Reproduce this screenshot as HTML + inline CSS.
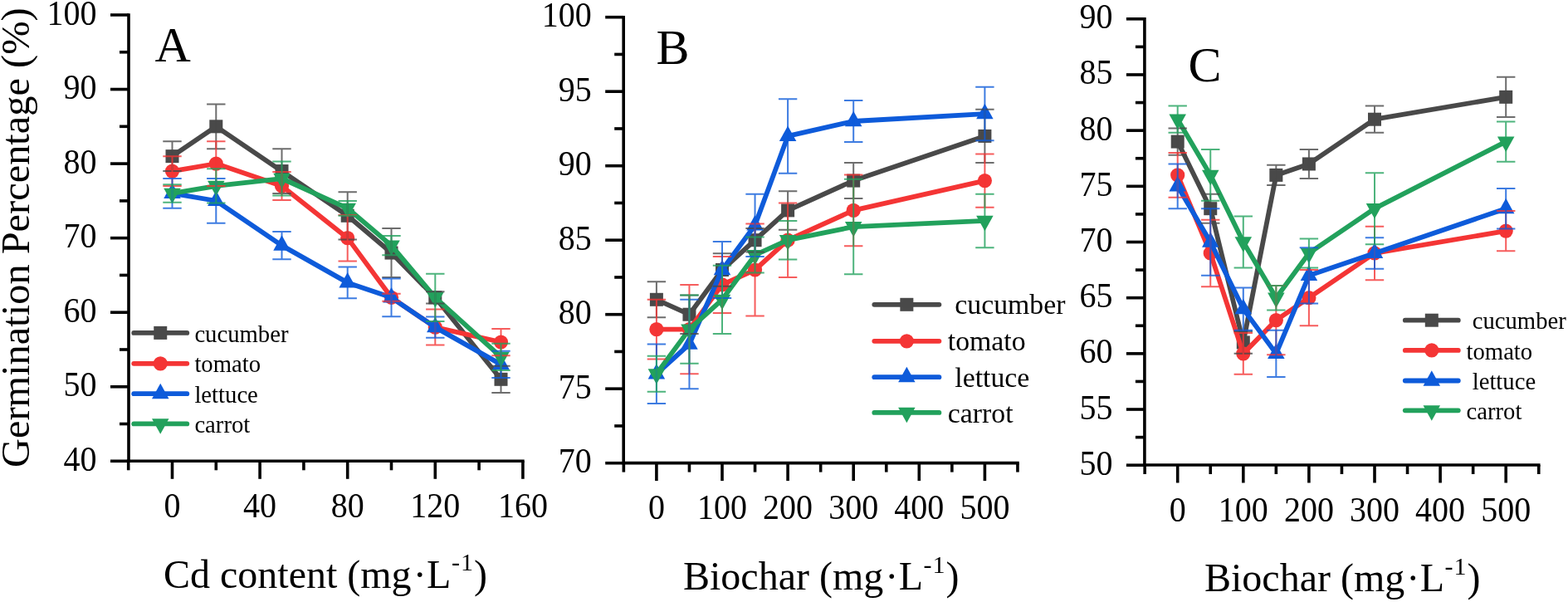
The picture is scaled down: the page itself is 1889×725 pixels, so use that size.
<!DOCTYPE html>
<html><head><meta charset="utf-8"><title>Germination Percentage</title>
<style>
html,body{margin:0;padding:0;background:#fff;}
body{width:1889px;height:725px;overflow:hidden;}
svg{display:block;}
text{font-family:"Liberation Serif", "Times New Roman", serif;fill:#000;}
.tl{font-size:41.5px;}
.at{font-size:48px;}
.pl{font-size:60px;}
.sup{font-size:30px;}
</style></head>
<body>
<svg width="1889" height="725" viewBox="0 0 1889 725">
<rect width="1889" height="725" fill="#fff"/>
<g id="panelA">
<polyline points="207.50,188.15 260.30,152.32 339.50,206.06 418.70,259.78 471.50,304.56 524.30,358.29 603.50,456.80" stroke="#494949" stroke-width="5.8" fill="none" stroke-linejoin="round"/>
<rect x="199.50" y="180.15" width="16.00" height="16.00" fill="#494949"/>
<rect x="252.30" y="144.32" width="16.00" height="16.00" fill="#494949"/>
<rect x="331.50" y="198.06" width="16.00" height="16.00" fill="#494949"/>
<rect x="410.70" y="251.78" width="16.00" height="16.00" fill="#494949"/>
<rect x="463.50" y="296.56" width="16.00" height="16.00" fill="#494949"/>
<rect x="516.30" y="350.29" width="16.00" height="16.00" fill="#494949"/>
<rect x="595.50" y="448.80" width="16.00" height="16.00" fill="#494949"/>
<polyline points="207.50,206.06 260.30,197.10 339.50,223.97 418.70,286.65 471.50,358.29 524.30,394.11 603.50,412.02" stroke="#f43535" stroke-width="5.8" fill="none" stroke-linejoin="round"/>
<circle cx="207.50" cy="206.06" r="8.60" fill="#f43535"/>
<circle cx="260.30" cy="197.10" r="8.60" fill="#f43535"/>
<circle cx="339.50" cy="223.97" r="8.60" fill="#f43535"/>
<circle cx="418.70" cy="286.65" r="8.60" fill="#f43535"/>
<circle cx="471.50" cy="358.29" r="8.60" fill="#f43535"/>
<circle cx="524.30" cy="394.11" r="8.60" fill="#f43535"/>
<circle cx="603.50" cy="412.02" r="8.60" fill="#f43535"/>
<polyline points="207.50,232.92 260.30,241.88 339.50,295.61 418.70,340.38 471.50,358.29 524.30,394.11 603.50,438.88" stroke="#0e5bda" stroke-width="5.8" fill="none" stroke-linejoin="round"/>
<polygon points="207.50,220.59 217.75,239.09 197.25,239.09" fill="#0e5bda"/>
<polygon points="260.30,229.54 270.55,248.04 250.05,248.04" fill="#0e5bda"/>
<polygon points="339.50,283.27 349.75,301.77 329.25,301.77" fill="#0e5bda"/>
<polygon points="418.70,328.05 428.95,346.55 408.45,346.55" fill="#0e5bda"/>
<polygon points="471.50,345.96 481.75,364.46 461.25,364.46" fill="#0e5bda"/>
<polygon points="524.30,381.78 534.55,400.28 514.05,400.28" fill="#0e5bda"/>
<polygon points="603.50,426.55 613.75,445.05 593.25,445.05" fill="#0e5bda"/>
<polyline points="207.50,232.92 260.30,223.97 339.50,215.01 418.70,250.83 471.50,295.61 524.30,358.29 603.50,429.93" stroke="#22a15c" stroke-width="5.8" fill="none" stroke-linejoin="round"/>
<polygon points="197.25,226.75 217.75,226.75 207.50,245.25" fill="#22a15c"/>
<polygon points="250.05,217.80 270.55,217.80 260.30,236.30" fill="#22a15c"/>
<polygon points="329.25,208.84 349.75,208.84 339.50,227.34" fill="#22a15c"/>
<polygon points="408.45,244.66 428.95,244.66 418.70,263.16" fill="#22a15c"/>
<polygon points="461.25,289.44 481.75,289.44 471.50,307.94" fill="#22a15c"/>
<polygon points="514.05,352.12 534.55,352.12 524.30,370.62" fill="#22a15c"/>
<polygon points="593.25,423.76 613.75,423.76 603.50,442.26" fill="#22a15c"/>
<path d="M207.50,170.24V206.06M196.30,170.24H218.70M196.30,206.06H218.70M260.30,125.46V179.19M249.10,125.46H271.50M249.10,179.19H271.50M339.50,179.19V232.92M328.30,179.19H350.70M328.30,232.92H350.70M418.70,231.13V288.44M407.50,231.13H429.90M407.50,288.44H429.90M471.50,275.01V334.11M460.30,275.01H482.70M460.30,334.11H482.70M524.30,351.13V365.45M513.10,351.13H535.50M513.10,365.45H535.50M603.50,440.68V472.91M592.30,440.68H614.70M592.30,472.91H614.70" stroke="#494949" stroke-opacity="0.8" stroke-width="2.0" fill="none"/>
<path d="M207.50,188.15V223.97M196.30,188.15H218.70M196.30,223.97H218.70M260.30,170.24V223.97M249.10,170.24H271.50M249.10,223.97H271.50M339.50,206.95V240.98M328.30,206.95H350.70M328.30,240.98H350.70M418.70,258.89V314.41M407.50,258.89H429.90M407.50,314.41H429.90M471.50,353.81V362.77M460.30,353.81H482.70M460.30,362.77H482.70M524.30,372.62V415.60M513.10,372.62H535.50M513.10,415.60H535.50M603.50,395.90V428.14M592.30,395.90H614.70M592.30,428.14H614.70" stroke="#f43535" stroke-opacity="0.8" stroke-width="2.0" fill="none"/>
<path d="M207.50,215.01V250.83M196.30,215.01H218.70M196.30,250.83H218.70M260.30,215.01V268.74M249.10,215.01H271.50M249.10,268.74H271.50M339.50,279.04V312.17M328.30,279.04H350.70M328.30,312.17H350.70M418.70,321.57V359.19M407.50,321.57H429.90M407.50,359.19H429.90M471.50,335.45V381.13M460.30,335.45H482.70M460.30,381.13H482.70M524.30,381.57V406.65M513.10,381.57H535.50M513.10,406.65H535.50M603.50,422.77V455.00M592.30,422.77H614.70M592.30,455.00H614.70" stroke="#0e5bda" stroke-opacity="0.8" stroke-width="2.0" fill="none"/>
<path d="M207.50,222.17V243.67M196.30,222.17H218.70M196.30,243.67H218.70M260.30,203.37V244.56M249.10,203.37H271.50M249.10,244.56H271.50M339.50,194.41V235.61M328.30,194.41H350.70M328.30,235.61H350.70M418.70,241.88V259.78M407.50,241.88H429.90M407.50,259.78H429.90M471.50,283.96V307.25M460.30,283.96H482.70M460.30,307.25H482.70M524.30,329.63V386.95M513.10,329.63H535.50M513.10,386.95H535.50M603.50,413.81V446.05M592.30,413.81H614.70M592.30,446.05H614.70" stroke="#22a15c" stroke-opacity="0.8" stroke-width="2.0" fill="none"/>
<path d="M155.00,16.20 L155.00,555.30 M152.90,555.30 L631.70,555.30" stroke="#000" stroke-width="3.6" fill="none"/>
<line x1="133.00" y1="555.30" x2="155.00" y2="555.30" stroke="#000" stroke-width="3.6"/>
<line x1="144.00" y1="510.52" x2="155.00" y2="510.52" stroke="#000" stroke-width="3.6"/>
<line x1="133.00" y1="465.75" x2="155.00" y2="465.75" stroke="#000" stroke-width="3.6"/>
<line x1="144.00" y1="420.98" x2="155.00" y2="420.98" stroke="#000" stroke-width="3.6"/>
<line x1="133.00" y1="376.20" x2="155.00" y2="376.20" stroke="#000" stroke-width="3.6"/>
<line x1="144.00" y1="331.43" x2="155.00" y2="331.43" stroke="#000" stroke-width="3.6"/>
<line x1="133.00" y1="286.65" x2="155.00" y2="286.65" stroke="#000" stroke-width="3.6"/>
<line x1="144.00" y1="241.88" x2="155.00" y2="241.88" stroke="#000" stroke-width="3.6"/>
<line x1="133.00" y1="197.10" x2="155.00" y2="197.10" stroke="#000" stroke-width="3.6"/>
<line x1="144.00" y1="152.32" x2="155.00" y2="152.32" stroke="#000" stroke-width="3.6"/>
<line x1="133.00" y1="107.55" x2="155.00" y2="107.55" stroke="#000" stroke-width="3.6"/>
<line x1="144.00" y1="62.77" x2="155.00" y2="62.77" stroke="#000" stroke-width="3.6"/>
<line x1="133.00" y1="18.00" x2="155.00" y2="18.00" stroke="#000" stroke-width="3.6"/>
<line x1="154.70" y1="555.30" x2="154.70" y2="566.30" stroke="#000" stroke-width="3.6"/>
<line x1="207.50" y1="555.30" x2="207.50" y2="576.80" stroke="#000" stroke-width="3.6"/>
<line x1="260.30" y1="555.30" x2="260.30" y2="566.30" stroke="#000" stroke-width="3.6"/>
<line x1="313.10" y1="555.30" x2="313.10" y2="576.80" stroke="#000" stroke-width="3.6"/>
<line x1="365.90" y1="555.30" x2="365.90" y2="566.30" stroke="#000" stroke-width="3.6"/>
<line x1="418.70" y1="555.30" x2="418.70" y2="576.80" stroke="#000" stroke-width="3.6"/>
<line x1="471.50" y1="555.30" x2="471.50" y2="566.30" stroke="#000" stroke-width="3.6"/>
<line x1="524.30" y1="555.30" x2="524.30" y2="576.80" stroke="#000" stroke-width="3.6"/>
<line x1="577.10" y1="555.30" x2="577.10" y2="566.30" stroke="#000" stroke-width="3.6"/>
<line x1="629.90" y1="555.30" x2="629.90" y2="576.80" stroke="#000" stroke-width="3.6"/>
<text transform="translate(116.50,566.80) scale(0.964,1)" text-anchor="end" class="tl">40</text>
<text transform="translate(116.50,477.25) scale(0.964,1)" text-anchor="end" class="tl">50</text>
<text transform="translate(116.50,387.70) scale(0.964,1)" text-anchor="end" class="tl">60</text>
<text transform="translate(116.50,298.15) scale(0.964,1)" text-anchor="end" class="tl">70</text>
<text transform="translate(116.50,208.60) scale(0.964,1)" text-anchor="end" class="tl">80</text>
<text transform="translate(116.50,119.05) scale(0.964,1)" text-anchor="end" class="tl">90</text>
<text transform="translate(116.50,29.50) scale(0.964,1)" text-anchor="end" class="tl">100</text>
<text transform="translate(207.50,622.80) scale(0.964,1)" text-anchor="middle" class="tl">0</text>
<text transform="translate(313.10,622.80) scale(0.964,1)" text-anchor="middle" class="tl">40</text>
<text transform="translate(418.70,622.80) scale(0.964,1)" text-anchor="middle" class="tl">80</text>
<text transform="translate(524.30,622.80) scale(0.964,1)" text-anchor="middle" class="tl">120</text>
<text transform="translate(629.90,622.80) scale(0.964,1)" text-anchor="middle" class="tl">160</text>
<line x1="161.20" y1="400.90" x2="225.30" y2="400.90" stroke="#494949" stroke-width="5.8" stroke-linecap="round"/>
<rect x="185.25" y="392.90" width="16.00" height="16.00" fill="#494949"/>
<text x="234.40" y="411.57" font-size="28.7" xml:space="preserve">cucumber</text>
<line x1="161.20" y1="437.80" x2="225.30" y2="437.80" stroke="#f43535" stroke-width="5.8" stroke-linecap="round"/>
<circle cx="193.25" cy="437.80" r="8.60" fill="#f43535"/>
<text x="234.40" y="448.47" font-size="28.7" xml:space="preserve">tomato</text>
<line x1="161.20" y1="474.20" x2="225.30" y2="474.20" stroke="#0e5bda" stroke-width="5.8" stroke-linecap="round"/>
<polygon points="193.25,461.87 203.50,480.37 183.00,480.37" fill="#0e5bda"/>
<text x="234.40" y="484.87" font-size="28.7" xml:space="preserve">lettuce</text>
<line x1="161.20" y1="510.40" x2="225.30" y2="510.40" stroke="#22a15c" stroke-width="5.8" stroke-linecap="round"/>
<polygon points="183.00,504.23 203.50,504.23 193.25,522.73" fill="#22a15c"/>
<text x="234.40" y="521.07" font-size="28.7" xml:space="preserve">carrot</text>
</g>
<g id="panelB">
<polyline points="790.90,360.80 830.45,378.70 870.00,325.00 909.55,289.20 949.10,253.40 1028.20,217.60 1186.40,163.90" stroke="#494949" stroke-width="5.8" fill="none" stroke-linejoin="round"/>
<rect x="782.90" y="352.80" width="16.00" height="16.00" fill="#494949"/>
<rect x="822.45" y="370.70" width="16.00" height="16.00" fill="#494949"/>
<rect x="862.00" y="317.00" width="16.00" height="16.00" fill="#494949"/>
<rect x="901.55" y="281.20" width="16.00" height="16.00" fill="#494949"/>
<rect x="941.10" y="245.40" width="16.00" height="16.00" fill="#494949"/>
<rect x="1020.20" y="209.60" width="16.00" height="16.00" fill="#494949"/>
<rect x="1178.40" y="155.90" width="16.00" height="16.00" fill="#494949"/>
<polyline points="790.90,396.60 830.45,396.60 870.00,342.90 909.55,325.00 949.10,289.20 1028.20,253.40 1186.40,217.60" stroke="#f43535" stroke-width="5.8" fill="none" stroke-linejoin="round"/>
<circle cx="790.90" cy="396.60" r="8.60" fill="#f43535"/>
<circle cx="830.45" cy="396.60" r="8.60" fill="#f43535"/>
<circle cx="870.00" cy="342.90" r="8.60" fill="#f43535"/>
<circle cx="909.55" cy="325.00" r="8.60" fill="#f43535"/>
<circle cx="949.10" cy="289.20" r="8.60" fill="#f43535"/>
<circle cx="1028.20" cy="253.40" r="8.60" fill="#f43535"/>
<circle cx="1186.40" cy="217.60" r="8.60" fill="#f43535"/>
<polyline points="790.90,450.30 830.45,414.50 870.00,325.00 909.55,271.30 949.10,163.90 1028.20,146.00 1186.40,137.05" stroke="#0e5bda" stroke-width="5.8" fill="none" stroke-linejoin="round"/>
<polygon points="790.90,437.97 801.15,456.47 780.65,456.47" fill="#0e5bda"/>
<polygon points="830.45,402.17 840.70,420.67 820.20,420.67" fill="#0e5bda"/>
<polygon points="870.00,312.67 880.25,331.17 859.75,331.17" fill="#0e5bda"/>
<polygon points="909.55,258.97 919.80,277.47 899.30,277.47" fill="#0e5bda"/>
<polygon points="949.10,151.57 959.35,170.07 938.85,170.07" fill="#0e5bda"/>
<polygon points="1028.20,133.67 1038.45,152.17 1017.95,152.17" fill="#0e5bda"/>
<polygon points="1186.40,124.72 1196.65,143.22 1176.15,143.22" fill="#0e5bda"/>
<polyline points="790.90,450.30 830.45,396.60 870.00,360.80 909.55,307.10 949.10,289.20 1028.20,273.09 1186.40,265.93" stroke="#22a15c" stroke-width="5.8" fill="none" stroke-linejoin="round"/>
<polygon points="780.65,444.13 801.15,444.13 790.90,462.63" fill="#22a15c"/>
<polygon points="820.20,390.43 840.70,390.43 830.45,408.93" fill="#22a15c"/>
<polygon points="859.75,354.63 880.25,354.63 870.00,373.13" fill="#22a15c"/>
<polygon points="899.30,300.93 919.80,300.93 909.55,319.43" fill="#22a15c"/>
<polygon points="938.85,283.03 959.35,283.03 949.10,301.53" fill="#22a15c"/>
<polygon points="1017.95,266.92 1038.45,266.92 1028.20,285.42" fill="#22a15c"/>
<polygon points="1176.15,259.76 1196.65,259.76 1186.40,278.26" fill="#22a15c"/>
<path d="M790.90,339.32V382.28M779.70,339.32H802.10M779.70,382.28H802.10M830.45,355.43V401.97M819.25,355.43H841.65M819.25,401.97H841.65M870.00,305.31V344.69M858.80,305.31H881.20M858.80,344.69H881.20M909.55,274.88V303.52M898.35,274.88H920.75M898.35,303.52H920.75M949.10,230.13V276.67M937.90,230.13H960.30M937.90,276.67H960.30M1028.20,196.12V239.08M1017.00,196.12H1039.40M1017.00,239.08H1039.40M1186.40,131.68V196.12M1175.20,131.68H1197.60M1175.20,196.12H1197.60" stroke="#494949" stroke-opacity="0.8" stroke-width="2.0" fill="none"/>
<path d="M790.90,360.80V432.40M779.70,360.80H802.10M779.70,432.40H802.10M830.45,342.90V450.30M819.25,342.90H841.65M819.25,450.30H841.65M870.00,308.89V376.91M858.80,308.89H881.20M858.80,376.91H881.20M909.55,269.51V380.49M898.35,269.51H920.75M898.35,380.49H920.75M949.10,244.45V333.95M937.90,244.45H960.30M937.90,333.95H960.30M1028.20,210.44V296.36M1017.00,210.44H1039.40M1017.00,296.36H1039.40M1186.40,185.38V249.82M1175.20,185.38H1197.60M1175.20,249.82H1197.60" stroke="#f43535" stroke-opacity="0.8" stroke-width="2.0" fill="none"/>
<path d="M790.90,414.50V486.10M779.70,414.50H802.10M779.70,486.10H802.10M830.45,360.80V468.20M819.25,360.80H841.65M819.25,468.20H841.65M870.00,290.99V359.01M858.80,290.99H881.20M858.80,359.01H881.20M909.55,233.71V308.89M898.35,233.71H920.75M898.35,308.89H920.75M949.10,119.15V208.65M937.90,119.15H960.30M937.90,208.65H960.30M1028.20,120.94V171.06M1017.00,120.94H1039.40M1017.00,171.06H1039.40M1186.40,104.83V169.27M1175.20,104.83H1197.60M1175.20,169.27H1197.60" stroke="#0e5bda" stroke-opacity="0.8" stroke-width="2.0" fill="none"/>
<path d="M790.90,428.82V471.78M779.70,428.82H802.10M779.70,471.78H802.10M830.45,355.43V437.77M819.25,355.43H841.65M819.25,437.77H841.65M870.00,319.63V401.97M858.80,319.63H881.20M858.80,401.97H881.20M909.55,285.62V328.58M898.35,285.62H920.75M898.35,328.58H920.75M949.10,265.93V312.47M937.90,265.93H960.30M937.90,312.47H960.30M1028.20,215.81V330.37M1017.00,215.81H1039.40M1017.00,330.37H1039.40M1186.40,233.71V298.15M1175.20,233.71H1197.60M1175.20,298.15H1197.60" stroke="#22a15c" stroke-opacity="0.8" stroke-width="2.0" fill="none"/>
<path d="M751.20,18.90 L751.20,557.60 M749.55,557.60 L1227.75,557.60" stroke="#000" stroke-width="3.6" fill="none"/>
<line x1="729.20" y1="557.70" x2="751.20" y2="557.70" stroke="#000" stroke-width="3.6"/>
<line x1="740.20" y1="512.95" x2="751.20" y2="512.95" stroke="#000" stroke-width="3.6"/>
<line x1="729.20" y1="468.20" x2="751.20" y2="468.20" stroke="#000" stroke-width="3.6"/>
<line x1="740.20" y1="423.45" x2="751.20" y2="423.45" stroke="#000" stroke-width="3.6"/>
<line x1="729.20" y1="378.70" x2="751.20" y2="378.70" stroke="#000" stroke-width="3.6"/>
<line x1="740.20" y1="333.95" x2="751.20" y2="333.95" stroke="#000" stroke-width="3.6"/>
<line x1="729.20" y1="289.20" x2="751.20" y2="289.20" stroke="#000" stroke-width="3.6"/>
<line x1="740.20" y1="244.45" x2="751.20" y2="244.45" stroke="#000" stroke-width="3.6"/>
<line x1="729.20" y1="199.70" x2="751.20" y2="199.70" stroke="#000" stroke-width="3.6"/>
<line x1="740.20" y1="154.95" x2="751.20" y2="154.95" stroke="#000" stroke-width="3.6"/>
<line x1="729.20" y1="110.20" x2="751.20" y2="110.20" stroke="#000" stroke-width="3.6"/>
<line x1="740.20" y1="65.45" x2="751.20" y2="65.45" stroke="#000" stroke-width="3.6"/>
<line x1="729.20" y1="20.70" x2="751.20" y2="20.70" stroke="#000" stroke-width="3.6"/>
<line x1="751.35" y1="557.60" x2="751.35" y2="568.60" stroke="#000" stroke-width="3.6"/>
<line x1="790.90" y1="557.60" x2="790.90" y2="579.10" stroke="#000" stroke-width="3.6"/>
<line x1="830.45" y1="557.60" x2="830.45" y2="568.60" stroke="#000" stroke-width="3.6"/>
<line x1="870.00" y1="557.60" x2="870.00" y2="579.10" stroke="#000" stroke-width="3.6"/>
<line x1="909.55" y1="557.60" x2="909.55" y2="568.60" stroke="#000" stroke-width="3.6"/>
<line x1="949.10" y1="557.60" x2="949.10" y2="579.10" stroke="#000" stroke-width="3.6"/>
<line x1="988.65" y1="557.60" x2="988.65" y2="568.60" stroke="#000" stroke-width="3.6"/>
<line x1="1028.20" y1="557.60" x2="1028.20" y2="579.10" stroke="#000" stroke-width="3.6"/>
<line x1="1067.75" y1="557.60" x2="1067.75" y2="568.60" stroke="#000" stroke-width="3.6"/>
<line x1="1107.30" y1="557.60" x2="1107.30" y2="579.10" stroke="#000" stroke-width="3.6"/>
<line x1="1146.85" y1="557.60" x2="1146.85" y2="568.60" stroke="#000" stroke-width="3.6"/>
<line x1="1186.40" y1="557.60" x2="1186.40" y2="579.10" stroke="#000" stroke-width="3.6"/>
<line x1="1225.95" y1="557.60" x2="1225.95" y2="568.60" stroke="#000" stroke-width="3.6"/>
<text transform="translate(712.70,569.20) scale(0.964,1)" text-anchor="end" class="tl">70</text>
<text transform="translate(712.70,479.70) scale(0.964,1)" text-anchor="end" class="tl">75</text>
<text transform="translate(712.70,390.20) scale(0.964,1)" text-anchor="end" class="tl">80</text>
<text transform="translate(712.70,300.70) scale(0.964,1)" text-anchor="end" class="tl">85</text>
<text transform="translate(712.70,211.20) scale(0.964,1)" text-anchor="end" class="tl">90</text>
<text transform="translate(712.70,121.70) scale(0.964,1)" text-anchor="end" class="tl">95</text>
<text transform="translate(712.70,32.20) scale(0.964,1)" text-anchor="end" class="tl">100</text>
<text transform="translate(790.90,625.10) scale(0.964,1)" text-anchor="middle" class="tl">0</text>
<text transform="translate(870.00,625.10) scale(0.964,1)" text-anchor="middle" class="tl">100</text>
<text transform="translate(949.10,625.10) scale(0.964,1)" text-anchor="middle" class="tl">200</text>
<text transform="translate(1028.20,625.10) scale(0.964,1)" text-anchor="middle" class="tl">300</text>
<text transform="translate(1107.30,625.10) scale(0.964,1)" text-anchor="middle" class="tl">400</text>
<text transform="translate(1186.40,625.10) scale(0.964,1)" text-anchor="middle" class="tl">500</text>
<line x1="1053.30" y1="366.80" x2="1131.40" y2="366.80" stroke="#494949" stroke-width="5.8" stroke-linecap="round"/>
<rect x="1084.35" y="358.80" width="16.00" height="16.00" fill="#494949"/>
<text x="1141.80" y="378.45" font-size="33.8" xml:space="preserve">&#160;cucumber</text>
<line x1="1053.30" y1="410.80" x2="1131.40" y2="410.80" stroke="#f43535" stroke-width="5.8" stroke-linecap="round"/>
<circle cx="1092.35" cy="410.80" r="8.60" fill="#f43535"/>
<text x="1141.80" y="422.45" font-size="33.8" xml:space="preserve">tomato</text>
<line x1="1053.30" y1="454.20" x2="1131.40" y2="454.20" stroke="#0e5bda" stroke-width="5.8" stroke-linecap="round"/>
<polygon points="1092.35,441.87 1102.60,460.37 1082.10,460.37" fill="#0e5bda"/>
<text x="1141.80" y="465.85" font-size="33.8" xml:space="preserve">&#160;lettuce</text>
<line x1="1053.30" y1="496.90" x2="1131.40" y2="496.90" stroke="#22a15c" stroke-width="5.8" stroke-linecap="round"/>
<polygon points="1082.10,490.73 1102.60,490.73 1092.35,509.23" fill="#22a15c"/>
<text x="1141.80" y="508.55" font-size="33.8" xml:space="preserve">carrot</text>
</g>
<g id="panelC">
<polyline points="1418.70,170.59 1458.25,251.20 1497.80,412.42 1537.35,210.89 1576.90,197.46 1656.00,143.72 1814.20,116.84" stroke="#494949" stroke-width="5.8" fill="none" stroke-linejoin="round"/>
<rect x="1410.70" y="162.59" width="16.00" height="16.00" fill="#494949"/>
<rect x="1450.25" y="243.20" width="16.00" height="16.00" fill="#494949"/>
<rect x="1489.80" y="404.42" width="16.00" height="16.00" fill="#494949"/>
<rect x="1529.35" y="202.89" width="16.00" height="16.00" fill="#494949"/>
<rect x="1568.90" y="189.46" width="16.00" height="16.00" fill="#494949"/>
<rect x="1648.00" y="135.72" width="16.00" height="16.00" fill="#494949"/>
<rect x="1806.20" y="108.84" width="16.00" height="16.00" fill="#494949"/>
<polyline points="1418.70,210.89 1458.25,304.94 1497.80,425.85 1537.35,385.55 1576.90,358.68 1656.00,304.94 1814.20,278.06" stroke="#f43535" stroke-width="5.8" fill="none" stroke-linejoin="round"/>
<circle cx="1418.70" cy="210.89" r="8.60" fill="#f43535"/>
<circle cx="1458.25" cy="304.94" r="8.60" fill="#f43535"/>
<circle cx="1497.80" cy="425.85" r="8.60" fill="#f43535"/>
<circle cx="1537.35" cy="385.55" r="8.60" fill="#f43535"/>
<circle cx="1576.90" cy="358.68" r="8.60" fill="#f43535"/>
<circle cx="1656.00" cy="304.94" r="8.60" fill="#f43535"/>
<circle cx="1814.20" cy="278.06" r="8.60" fill="#f43535"/>
<polyline points="1418.70,224.33 1458.25,291.50 1497.80,372.11 1537.35,425.85 1576.90,331.81 1656.00,304.94 1814.20,251.20" stroke="#0e5bda" stroke-width="5.8" fill="none" stroke-linejoin="round"/>
<polygon points="1418.70,211.99 1428.95,230.49 1408.45,230.49" fill="#0e5bda"/>
<polygon points="1458.25,279.17 1468.50,297.67 1448.00,297.67" fill="#0e5bda"/>
<polygon points="1497.80,359.78 1508.05,378.28 1487.55,378.28" fill="#0e5bda"/>
<polygon points="1537.35,413.52 1547.60,432.02 1527.10,432.02" fill="#0e5bda"/>
<polygon points="1576.90,319.47 1587.15,337.97 1566.65,337.97" fill="#0e5bda"/>
<polygon points="1656.00,292.60 1666.25,311.10 1645.75,311.10" fill="#0e5bda"/>
<polygon points="1814.20,238.86 1824.45,257.36 1803.95,257.36" fill="#0e5bda"/>
<polyline points="1418.70,143.72 1458.25,210.89 1497.80,291.50 1537.35,358.68 1576.90,304.94 1656.00,251.20 1814.20,170.59" stroke="#22a15c" stroke-width="5.8" fill="none" stroke-linejoin="round"/>
<polygon points="1408.45,137.55 1428.95,137.55 1418.70,156.05" fill="#22a15c"/>
<polygon points="1448.00,204.72 1468.50,204.72 1458.25,223.22" fill="#22a15c"/>
<polygon points="1487.55,285.33 1508.05,285.33 1497.80,303.83" fill="#22a15c"/>
<polygon points="1527.10,352.51 1547.60,352.51 1537.35,371.01" fill="#22a15c"/>
<polygon points="1566.65,298.77 1587.15,298.77 1576.90,317.27" fill="#22a15c"/>
<polygon points="1645.75,245.03 1666.25,245.03 1656.00,263.53" fill="#22a15c"/>
<polygon points="1803.95,164.42 1824.45,164.42 1814.20,182.92" fill="#22a15c"/>
<path d="M1418.70,154.46V186.71M1407.50,154.46H1429.90M1407.50,186.71H1429.90M1458.25,233.73V268.66M1447.05,233.73H1469.45M1447.05,268.66H1469.45M1497.80,398.98V425.85M1486.60,398.98H1509.00M1486.60,425.85H1509.00M1537.35,198.80V222.98M1526.15,198.80H1548.55M1526.15,222.98H1548.55M1576.90,179.99V214.92M1565.70,179.99H1588.10M1565.70,214.92H1588.10M1656.00,127.59V159.84M1644.80,127.59H1667.20M1644.80,159.84H1667.20M1814.20,92.66V141.03M1803.00,92.66H1825.40M1803.00,141.03H1825.40" stroke="#494949" stroke-opacity="0.8" stroke-width="2.0" fill="none"/>
<path d="M1418.70,184.02V237.76M1407.50,184.02H1429.90M1407.50,237.76H1429.90M1458.25,264.63V345.24M1447.05,264.63H1469.45M1447.05,345.24H1469.45M1497.80,401.00V450.70M1486.60,401.00H1509.00M1486.60,450.70H1509.00M1537.35,343.90V427.19M1526.15,343.90H1548.55M1526.15,427.19H1548.55M1576.90,325.09V392.26M1565.70,325.09H1588.10M1565.70,392.26H1588.10M1656.00,272.69V337.18M1644.80,272.69H1667.20M1644.80,337.18H1667.20M1814.20,253.88V302.25M1803.00,253.88H1825.40M1803.00,302.25H1825.40" stroke="#f43535" stroke-opacity="0.8" stroke-width="2.0" fill="none"/>
<path d="M1418.70,197.46V251.20M1407.50,197.46H1429.90M1407.50,251.20H1429.90M1458.25,251.20V331.81M1447.05,251.20H1469.45M1447.05,331.81H1469.45M1497.80,346.58V397.64M1486.60,346.58H1509.00M1486.60,397.64H1509.00M1537.35,397.64V454.06M1526.15,397.64H1548.55M1526.15,454.06H1548.55M1576.90,298.22V365.39M1565.70,298.22H1588.10M1565.70,365.39H1588.10M1656.00,286.13V323.74M1644.80,286.13H1667.20M1644.80,323.74H1667.20M1814.20,227.01V275.38M1803.00,227.01H1825.40M1803.00,275.38H1825.40" stroke="#0e5bda" stroke-opacity="0.8" stroke-width="2.0" fill="none"/>
<path d="M1418.70,127.59V159.84M1407.50,127.59H1429.90M1407.50,159.84H1429.90M1458.25,179.99V241.79M1447.05,179.99H1469.45M1447.05,241.79H1469.45M1497.80,260.60V322.40M1486.60,260.60H1509.00M1486.60,322.40H1509.00M1537.35,343.90V373.45M1526.15,343.90H1548.55M1526.15,373.45H1548.55M1576.90,287.47V322.40M1565.70,287.47H1588.10M1565.70,322.40H1588.10M1656.00,208.20V294.19M1644.80,208.20H1667.20M1644.80,294.19H1667.20M1814.20,146.40V194.77M1803.00,146.40H1825.40M1803.00,194.77H1825.40" stroke="#22a15c" stroke-opacity="0.8" stroke-width="2.0" fill="none"/>
<path d="M1378.90,21.00 L1378.90,560.00 M1377.35,560.00 L1855.55,560.00" stroke="#000" stroke-width="3.6" fill="none"/>
<line x1="1356.90" y1="560.20" x2="1378.90" y2="560.20" stroke="#000" stroke-width="3.6"/>
<line x1="1367.90" y1="526.61" x2="1378.90" y2="526.61" stroke="#000" stroke-width="3.6"/>
<line x1="1356.90" y1="493.03" x2="1378.90" y2="493.03" stroke="#000" stroke-width="3.6"/>
<line x1="1367.90" y1="459.44" x2="1378.90" y2="459.44" stroke="#000" stroke-width="3.6"/>
<line x1="1356.90" y1="425.85" x2="1378.90" y2="425.85" stroke="#000" stroke-width="3.6"/>
<line x1="1367.90" y1="392.26" x2="1378.90" y2="392.26" stroke="#000" stroke-width="3.6"/>
<line x1="1356.90" y1="358.68" x2="1378.90" y2="358.68" stroke="#000" stroke-width="3.6"/>
<line x1="1367.90" y1="325.09" x2="1378.90" y2="325.09" stroke="#000" stroke-width="3.6"/>
<line x1="1356.90" y1="291.50" x2="1378.90" y2="291.50" stroke="#000" stroke-width="3.6"/>
<line x1="1367.90" y1="257.91" x2="1378.90" y2="257.91" stroke="#000" stroke-width="3.6"/>
<line x1="1356.90" y1="224.33" x2="1378.90" y2="224.33" stroke="#000" stroke-width="3.6"/>
<line x1="1367.90" y1="190.74" x2="1378.90" y2="190.74" stroke="#000" stroke-width="3.6"/>
<line x1="1356.90" y1="157.15" x2="1378.90" y2="157.15" stroke="#000" stroke-width="3.6"/>
<line x1="1367.90" y1="123.56" x2="1378.90" y2="123.56" stroke="#000" stroke-width="3.6"/>
<line x1="1356.90" y1="89.97" x2="1378.90" y2="89.97" stroke="#000" stroke-width="3.6"/>
<line x1="1367.90" y1="56.39" x2="1378.90" y2="56.39" stroke="#000" stroke-width="3.6"/>
<line x1="1356.90" y1="22.80" x2="1378.90" y2="22.80" stroke="#000" stroke-width="3.6"/>
<line x1="1379.15" y1="560.00" x2="1379.15" y2="571.00" stroke="#000" stroke-width="3.6"/>
<line x1="1418.70" y1="560.00" x2="1418.70" y2="581.50" stroke="#000" stroke-width="3.6"/>
<line x1="1458.25" y1="560.00" x2="1458.25" y2="571.00" stroke="#000" stroke-width="3.6"/>
<line x1="1497.80" y1="560.00" x2="1497.80" y2="581.50" stroke="#000" stroke-width="3.6"/>
<line x1="1537.35" y1="560.00" x2="1537.35" y2="571.00" stroke="#000" stroke-width="3.6"/>
<line x1="1576.90" y1="560.00" x2="1576.90" y2="581.50" stroke="#000" stroke-width="3.6"/>
<line x1="1616.45" y1="560.00" x2="1616.45" y2="571.00" stroke="#000" stroke-width="3.6"/>
<line x1="1656.00" y1="560.00" x2="1656.00" y2="581.50" stroke="#000" stroke-width="3.6"/>
<line x1="1695.55" y1="560.00" x2="1695.55" y2="571.00" stroke="#000" stroke-width="3.6"/>
<line x1="1735.10" y1="560.00" x2="1735.10" y2="581.50" stroke="#000" stroke-width="3.6"/>
<line x1="1774.65" y1="560.00" x2="1774.65" y2="571.00" stroke="#000" stroke-width="3.6"/>
<line x1="1814.20" y1="560.00" x2="1814.20" y2="581.50" stroke="#000" stroke-width="3.6"/>
<line x1="1853.75" y1="560.00" x2="1853.75" y2="571.00" stroke="#000" stroke-width="3.6"/>
<text transform="translate(1340.40,571.70) scale(0.964,1)" text-anchor="end" class="tl">50</text>
<text transform="translate(1340.40,504.53) scale(0.964,1)" text-anchor="end" class="tl">55</text>
<text transform="translate(1340.40,437.35) scale(0.964,1)" text-anchor="end" class="tl">60</text>
<text transform="translate(1340.40,370.18) scale(0.964,1)" text-anchor="end" class="tl">65</text>
<text transform="translate(1340.40,303.00) scale(0.964,1)" text-anchor="end" class="tl">70</text>
<text transform="translate(1340.40,235.83) scale(0.964,1)" text-anchor="end" class="tl">75</text>
<text transform="translate(1340.40,168.65) scale(0.964,1)" text-anchor="end" class="tl">80</text>
<text transform="translate(1340.40,101.47) scale(0.964,1)" text-anchor="end" class="tl">85</text>
<text transform="translate(1340.40,34.30) scale(0.964,1)" text-anchor="end" class="tl">90</text>
<text transform="translate(1418.70,627.50) scale(0.964,1)" text-anchor="middle" class="tl">0</text>
<text transform="translate(1497.80,627.50) scale(0.964,1)" text-anchor="middle" class="tl">100</text>
<text transform="translate(1576.90,627.50) scale(0.964,1)" text-anchor="middle" class="tl">200</text>
<text transform="translate(1656.00,627.50) scale(0.964,1)" text-anchor="middle" class="tl">300</text>
<text transform="translate(1735.10,627.50) scale(0.964,1)" text-anchor="middle" class="tl">400</text>
<text transform="translate(1814.20,627.50) scale(0.964,1)" text-anchor="middle" class="tl">500</text>
<line x1="1692.80" y1="385.70" x2="1756.80" y2="385.70" stroke="#494949" stroke-width="5.8" stroke-linecap="round"/>
<rect x="1716.80" y="377.70" width="16.00" height="16.00" fill="#494949"/>
<text x="1766.50" y="396.37" font-size="28.7" xml:space="preserve">&#160;cucumber</text>
<line x1="1692.80" y1="421.90" x2="1756.80" y2="421.90" stroke="#f43535" stroke-width="5.8" stroke-linecap="round"/>
<circle cx="1724.80" cy="421.90" r="8.60" fill="#f43535"/>
<text x="1766.50" y="432.57" font-size="28.7" xml:space="preserve">tomato</text>
<line x1="1692.80" y1="458.50" x2="1756.80" y2="458.50" stroke="#0e5bda" stroke-width="5.8" stroke-linecap="round"/>
<polygon points="1724.80,446.17 1735.05,464.67 1714.55,464.67" fill="#0e5bda"/>
<text x="1766.50" y="469.17" font-size="28.7" xml:space="preserve">&#160;lettuce</text>
<line x1="1692.80" y1="494.30" x2="1756.80" y2="494.30" stroke="#22a15c" stroke-width="5.8" stroke-linecap="round"/>
<polygon points="1714.55,488.13 1735.05,488.13 1724.80,506.63" fill="#22a15c"/>
<text x="1766.50" y="504.97" font-size="28.7" xml:space="preserve">carrot</text>
</g>
<text x="186.5" y="73.6" class="pl">A</text>
<text x="790.5" y="77.4" class="pl">B</text>
<text x="1431.5" y="97.5" class="pl">C</text>
<text transform="translate(34.6,563) rotate(-90)" class="at" style="font-size:48.4px">Germination Percentage (%)</text>
<text x="197" y="707.8" class="at">Cd content (mg<tspan dx="2">·</tspan><tspan dx="0.5">L</tspan><tspan class="sup" dx="0.5 1" dy="-20.5">-1</tspan><tspan dx="1" dy="20.5">)</tspan></text>
<text x="823" y="710.4" class="at">Biochar (mg<tspan dx="2">·</tspan><tspan dx="0.5">L</tspan><tspan class="sup" dx="0.5 1" dy="-20.5">-1</tspan><tspan dx="1" dy="20.5">)</tspan></text>
<text x="1451" y="712.4" class="at">Biochar (mg<tspan dx="2">·</tspan><tspan dx="0.5">L</tspan><tspan class="sup" dx="0.5 1" dy="-20.5">-1</tspan><tspan dx="1" dy="20.5">)</tspan></text>
</svg>
</body></html>
